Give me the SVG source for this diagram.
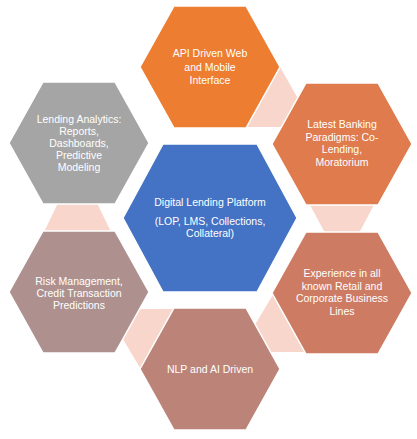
<svg xmlns="http://www.w3.org/2000/svg" width="417" height="439" viewBox="0 0 417 439">
<style>
.hex{stroke:#FFFFFF;stroke-width:1.5;stroke-linejoin:miter}
.conn{fill:#F8D6CB;stroke:none}
text{font-family:"Liberation Sans",Arial,sans-serif;font-size:10.5px;fill:#FFFFFF;text-anchor:middle}
</style>
<rect width="417" height="439" fill="#FFFFFF"/>
<g id="connectors">
<polygon class="conn" points="276,60 300,102 283,127 246,127 262,96"/>
<polygon class="conn" points="309,203 375,203 359,233 325,233"/>
<polygon class="conn" points="277,288 253,328 262,352 308,352 292,310"/>
<polygon class="conn" points="146,378 120,334 137,309 174,309 158,340"/>
<polygon class="conn" points="58,203 97,203 111.5,233 43.5,233"/>
</g>
<g id="node-api">
<polygon class="hex" fill="#ED7D31" points="140,67 174,6 246,6 280,67 246,128 174,128"/>
<text x="210" y="57">API Driven Web</text>
<text x="210" y="70.5">and Mobile</text>
<text x="210" y="84">Interface</text>
</g>
<g id="node-analytics">
<polygon class="hex" fill="#A5A5A5" points="9,143 43,82 115,82 149,143 115,204 43,204"/>
<text x="79" y="123">Lending Analytics:</text>
<text x="79" y="135">Reports,</text>
<text x="79" y="147">Dashboards,</text>
<text x="79" y="159">Predictive</text>
<text x="79" y="171">Modeling</text>
</g>
<g id="node-banking">
<polygon class="hex" fill="#DF7B4C" points="272,144 306,83 378,83 412,144 378,205 306,205"/>
<text x="342" y="128">Latest Banking</text>
<text x="342" y="140.5">Paradigms: Co-</text>
<text x="342" y="153">Lending,</text>
<text x="342" y="165.5">Moratorium</text>
</g>
<g id="node-center">
<polygon class="hex" fill="#4472C4" points="123,218 163,144 257,144 297,218 257,292 163,292"/>
<text x="210" y="206">Digital Lending Platform</text>
<text x="210" y="225">(LOP, LMS, Collections,</text>
<text x="210" y="237">Collateral)</text>
</g>
<g id="node-risk">
<polygon class="hex" fill="#AE918E" points="9,292 43,231 115,231 149,292 115,353 43,353"/>
<text x="79" y="285">Risk Management,</text>
<text x="79" y="297">Credit Transaction</text>
<text x="79" y="309">Predictions</text>
</g>
<g id="node-experience">
<polygon class="hex" fill="#CD7B62" points="272,293 306,232 378,232 412,293 378,354 306,354"/>
<text x="342" y="277">Experience in all</text>
<text x="342" y="289.5">known Retail and</text>
<text x="342" y="302">Corporate Business</text>
<text x="342" y="314.5">Lines</text>
</g>
<g id="node-nlp">
<polygon class="hex" fill="#BC8479" points="140,369 174,308 246,308 280,369 246,430 174,430"/>
<text x="210" y="373">NLP and AI Driven</text>
</g>
</svg>
